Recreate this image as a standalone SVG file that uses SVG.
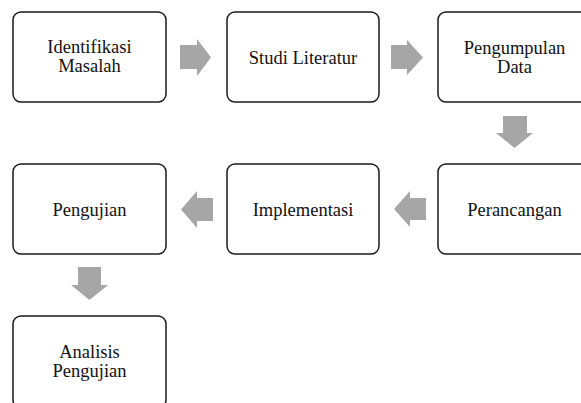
<svg xmlns="http://www.w3.org/2000/svg" width="581" height="403" viewBox="0 0 581 403">
<style>
.box{fill:#fff;stroke:#1a1a1a;stroke-width:1.5}
text{font-family:'Liberation Serif','Times New Roman',serif;font-size:18.5px;fill:#111;text-anchor:middle}
.arr{fill:#a6a6a6}
</style>
<rect width="581" height="403" fill="#fff"/>
<g id="connectors">
<polygon class="arr" points="180,45 197,45 197,39 211,57.5 197,76 197,69 180,69"/>
<polygon class="arr" points="391,45 407,45 407,40 423,57.5 407,75 407,69 391,69"/>
<polygon class="arr" points="503,116 527,116 527,133 533,133 514.5,148 496,133 503,133"/>
<polygon class="arr" points="213,198 197,198 197,191 181,209.5 197,228 197,221 213,221"/>
<polygon class="arr" points="426,198 410,198 410,191 394,209 410,227 410,220 426,220"/>
<polygon class="arr" points="78,267 101,267 101,285 108,285 89.5,300 71,285 78,285"/>
</g>
<g id="n1"><rect class="box" x="13" y="12" width="153" height="90" rx="8"/><text x="89.5" y="53">Identifikasi</text><text x="89.5" y="72">Masalah</text></g>
<g id="n2"><rect class="box" x="227" y="12" width="152" height="90" rx="8"/><text x="303" y="64">Studi Literatur</text></g>
<g id="n3"><rect class="box" x="438" y="12" width="153" height="90" rx="8"/><text x="514.5" y="54">Pengumpulan</text><text x="514.5" y="73">Data</text></g>
<g id="n4"><rect class="box" x="438" y="164" width="153" height="90" rx="8"/><text x="514.5" y="216">Perancangan</text></g>
<g id="n5"><rect class="box" x="227" y="164" width="152" height="90" rx="8"/><text x="303" y="216">Implementasi</text></g>
<g id="n6"><rect class="box" x="13" y="164" width="153" height="90" rx="8"/><text x="89.5" y="216">Pengujian</text></g>
<g id="n7"><rect class="box" x="13" y="316" width="153" height="92" rx="8"/><text x="89.5" y="358">Analisis</text><text x="89.5" y="377">Pengujian</text></g>
</svg>
